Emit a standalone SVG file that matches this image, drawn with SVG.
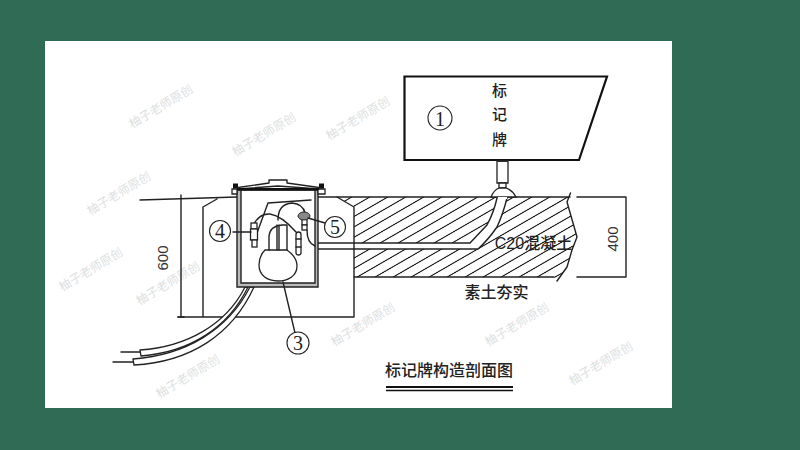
<svg xmlns="http://www.w3.org/2000/svg" width="800" height="450" viewBox="0 0 800 450">
<style>
.l{fill:none;stroke:#222;stroke-width:1.4;stroke-linejoin:round;stroke-linecap:round}
.w{fill:#fff;stroke:#222;stroke-width:1.3}
.t{font-family:"Liberation Sans","Noto Sans CJK SC",sans-serif;font-weight:500;fill:#222;text-anchor:middle}
.n{font-family:"Liberation Sans",sans-serif;fill:#333;text-anchor:middle;font-size:15px}
.c{fill:#fff;stroke:#222;stroke-width:1.1}
.d{font-family:"Liberation Serif",serif;fill:#222;text-anchor:middle;font-size:20px}
.m{font-family:"Noto Sans CJK SC",sans-serif;fill:#dde1df;text-anchor:middle;font-size:12px}
</style>
<defs>
<pattern id="hatch" width="18" height="10" patternUnits="userSpaceOnUse" patternTransform="skewX(-60)">
<rect width="18" height="10" fill="#fff"/><path d="M9 0V10" stroke="#222" stroke-width="2.300"/>
</pattern>
</defs>
<rect width="800" height="450" fill="#2f6b55"/>
<rect x="45" y="41" width="627" height="367" fill="#fff"/>
<g id="watermarks">
<text class="m" transform="translate(163,110) rotate(-31)">柚子老师原创</text>
<text class="m" transform="translate(266,138) rotate(-31)">柚子老师原创</text>
<text class="m" transform="translate(121,197) rotate(-31)">柚子老师原创</text>
<text class="m" transform="translate(560,111) rotate(-31)">柚子老师原创</text>
<text class="m" transform="translate(360,122) rotate(-31)">柚子老师原创</text>
<text class="m" transform="translate(170,287) rotate(-31)">柚子老师原创</text>
<text class="m" transform="translate(93,273) rotate(-31)">柚子老师原创</text>
<text class="m" transform="translate(365,328) rotate(-31)">柚子老师原创</text>
<text class="m" transform="translate(519,328) rotate(-31)">柚子老师原创</text>
<text class="m" transform="translate(190,380) rotate(-31)">柚子老师原创</text>
<text class="m" transform="translate(603,367) rotate(-31)">柚子老师原创</text>
</g>
<g id="concrete">
<path d="M337 197H570L567 202L573 223L577 237L572 250L567 267L557 281L554 277H354V207Z" fill="url(#hatch)"/>
<path class="l" d="M337 197H570M570.500 193L567 202L573 223L577 237L572 250L567 267L557 281M354 277H554"/>
<path d="M318 243H470L487 225Q494 212 497 197H507Q503 214 497 227Q488 240 478 249H318Z" fill="#fff"/>
<path class="l" d="M315 243H470L487 225Q494 212 497 198M315 249H478Q488 240 497 227Q503 214 507 198"/>
</g>
<g id="ground">
<path class="l" d="M140 200L237 197M318 197H337L354 207V317H178M203 317V207L217 199"/>
</g>
<g id="dim-600">
<path class="l" d="M181 195V317M178 317H184"/>
<text class="n" transform="translate(168,258) rotate(-90)">600</text>
</g>
<g id="dim-400">
<path class="l" d="M577 197H626V277H577"/>
<text class="n" transform="translate(618,239) rotate(-90)">400</text>
</g>
<g id="conduits">
<path class="l" d="M121 352H140M113 362H134"/>
<path d="M245 287C226 325 186 347 140 350L141 356C190 352 228 328 248 287Z" class="w"/>
<path d="M250 287C228 330 186 355 133 359L134 365C190 362 232 335 254 287Z" class="w"/>
</g>
<g id="box">
<path d="M237 190H318V287H237Z" fill="#bbb" stroke="#222" stroke-width="1.400"/>
<path d="M241 190V283H315V190Z" fill="#fff" stroke="#222" stroke-width="1.400"/>
<path d="M232 189H325V194H318V190H237V194H232Z" fill="#fff" stroke="#222" stroke-width="1.300"/>
<rect x="233" y="183.500" width="5" height="5" fill="#111"/>
<rect x="319" y="183.500" width="5" height="5" fill="#111"/>
<path class="l" d="M238 187.500L269 183V180H287V183L319 187.500M238 189L278 186L319 189"/>
<path d="M237 189H319" stroke="#111" stroke-width="2.200"/>
</g>
<g id="lamp">
<path class="w" d="M265 250H287C294 255 297 260 297 266C297 276 288 281 278 281C267 281 259 275 259 265C259 258 262 253 265 250Z"/>
<path class="l" d="M269 250V236Q270 226 282 225H287V250M277 225V250M279 225V250"/>
</g>
<g id="wires">
<path class="l" d="M257 233L268 203L311 200"/>
<path class="l" d="M252 228Q258 213 270 214Q282 216 296 232"/>
<path class="l" d="M278 220Q278 204 292 203Q303 204 305 213"/>
<path class="l" d="M307 230Q307 243 315 246"/>
</g>
<g id="fitting-4">
<rect class="w" x="251" y="223" width="6" height="6"/><rect class="w" x="250.500" y="229" width="7" height="11"/><rect class="w" x="252" y="240" width="5" height="7"/>
</g>
<g id="fitting-5">
<rect class="w" x="302" y="219" width="5" height="6"/><rect class="w" x="302" y="225" width="5" height="5"/>
<ellipse cx="304" cy="216" rx="6" ry="4" fill="#888" stroke="#222"/>
</g>
<g id="fitting-col">
<rect class="w" x="296" y="232" width="5" height="23" rx="2.500"/>
<path class="l" d="M296 239H301M296 247H301"/>
</g>
<g id="leaders">
<path class="l" d="M233 232H251M308 218L325 223M283 282L295 333"/>
</g>
<g id="sign">
<path d="M404.500 76.500H607L579 160H404.500Z" fill="#fff" stroke="#111" stroke-width="2.200"/>
<text class="t" x="499.500" y="96" font-size="15">标</text>
<text class="t" x="499.500" y="120" font-size="15">记</text>
<text class="t" x="499.500" y="145" font-size="15">牌</text>
<circle class="c" cx="440" cy="118" r="12"/><text class="d" x="440" y="125.500" font-size="22">1</text>
</g>
<g id="post">
<path class="w" d="M497 161H508V183H497Z"/>
<path class="l" d="M498 161H507" stroke-width="2"/>
<path class="w" d="M499 183H506V188H499Z"/>
<path class="w" d="M491 197Q494 190 499 188H506Q512 190 516 197Z"/>
<path d="M498 197H507V199H498Z" fill="#fff"/>
</g>
<g id="callout-4"><circle class="c" cx="220" cy="231" r="10.500"/><text class="d" x="220" y="237.500">4</text></g>
<g id="callout-5"><circle class="c" cx="335" cy="227" r="10.500"/><text class="d" x="335" y="233.500">5</text></g>
<g id="callout-3"><circle class="c" cx="298" cy="343" r="11"/><text class="d" x="298" y="349.500">3</text></g>
<g id="labels">
<text class="t" x="533.500" y="248.500" font-size="16">C20混凝土</text>
<text class="t" x="496.500" y="298" font-size="16">素土夯实</text>
<text class="t" x="449" y="376" font-size="16">标记牌构造剖面图</text>
<path d="M386 387H513" stroke="#111" stroke-width="2"/>
<path d="M386 390.500H513" stroke="#111" stroke-width="1.500"/>
</g>
</svg>
